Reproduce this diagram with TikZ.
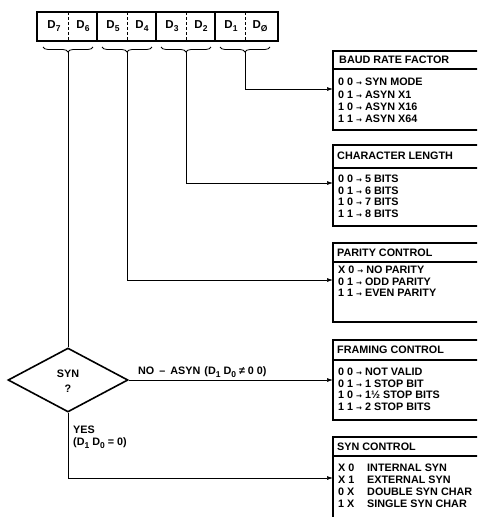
\documentclass[tikz,border=0pt]{standalone}
\usepackage{fontspec}
\setmainfont{Liberation Sans}
\newfontfamily\dv{DejaVu Sans}
\usetikzlibrary{decorations.pathreplacing,arrows.meta,shapes.geometric}
\newcommand{\sbs}[1]{\raisebox{-0.45ex}{\fontsize{8.5}{8.5}\selectfont #1}}
\newcommand{\arr}{{\dv\bfseries\fontsize{7}{7}\selectfont\hspace{3pt}→\hspace{3pt}}}
\newcommand{\rbox}[3]{%
  \draw[boxline] (495,#1) -- (333,#1) -- (333,#3) -- (495,#3);
  \draw[divline] (333,#2) -- (495,#2);}
\begin{document}
\begin{tikzpicture}[x=1pt,y=-1pt,
  font=\bfseries\fontsize{10.8}{12}\selectfont,
  boxline/.style={line width=1.6pt},
  divline/.style={line width=1.1pt},
  conn/.style={line width=0.7pt,-{Latex[length=6pt,width=4pt]}},
  txt/.style={anchor=west,inner sep=0pt},
  cell/.style={inner sep=0pt,font=\bfseries\fontsize{11.5}{12}\selectfont},
  brc/.style={decorate,decoration={brace,mirror,amplitude=5pt},line width=0.8pt}]
\useasboundingbox (0,0) rectangle (477,517);
\clip (0,0) rectangle (477,517);
% register
\node[draw,line width=1.6pt,minimum width=241pt,minimum height=29pt,inner sep=0pt] (reg) at (157.5,26.5) {};
\foreach \x in {97,156,215} \draw[line width=1.2pt] (\x,12) -- (\x,41);
\foreach \x in {68,127,186,245} \draw[line width=0.8pt,dash pattern=on 3pt off 2pt] (\x,12) -- (\x,41);
\node[cell] (d7) at (54,26) {D\sbs{7}};
\node[cell] (d6) at (83,26) {D\sbs{6}};
\node[cell] (d5) at (113,26) {D\sbs{5}};
\node[cell] (d4) at (142,26) {D\sbs{4}};
\node[cell] (d3) at (172,26) {D\sbs{3}};
\node[cell] (d2) at (201,26) {D\sbs{2}};
\node[cell] (d1) at (231,26) {D\sbs{1}};
\node[cell] (d0) at (260,26) {D\sbs{Ø}};
% braces
\draw[brc] (43,47) -- (93,47);
\draw[brc] (102,47) -- (152,47);
\draw[brc] (161,47) -- (211,47);
\draw[brc] (220,47) -- (270,47);
\coordinate (b76) at (68,52);
\coordinate (b54) at (127,52);
\coordinate (b32) at (186,52);
\coordinate (b10) at (245,52);
% boxes
\rbox{51}{69}{130}
\rbox{145}{168}{226}
\rbox{243}{262}{322}
\rbox{340}{360}{420}
\rbox{437}{456}{540}
\coordinate (baud) at (333,89);
\coordinate (char) at (333,183);
\coordinate (par) at (333,280);
\coordinate (fram) at (333,380);
\coordinate (synb) at (333,478);
% box texts
\node[txt] (t1) at (339,60) {BAUD RATE FACTOR};
\node[txt] (t1a) at (338,82) {0 0\arr SYN MODE};
\node[txt] (t1b) at (338,94.5) {0 1\arr ASYN X1};
\node[txt] (t1c) at (338,106.5) {1 0\arr ASYN X16};
\node[txt] (t1d) at (338,118.5) {1 1\arr ASYN X64};
\node[txt] (t2) at (337,156) {CHARACTER LENGTH};
\node[txt] (t2a) at (338,179) {0 0\arr 5 BITS};
\node[txt] (t2b) at (338,190.5) {0 1\arr 6 BITS};
\node[txt] (t2c) at (338,202) {1 0\arr 7 BITS};
\node[txt] (t2d) at (338,213.5) {1 1\arr 8 BITS};
\node[txt] (t3) at (337,252.5) {PARITY CONTROL};
\node[txt] (t3a) at (338,270) {X 0\arr NO PARITY};
\node[txt] (t3b) at (338,281.5) {0 1\arr ODD PARITY};
\node[txt] (t3c) at (338,293) {1 1\arr EVEN PARITY};
\node[txt] (t4) at (337,350) {FRAMING CONTROL};
\node[txt] (t4a) at (338,372) {0 0\arr NOT VALID};
\node[txt] (t4b) at (338,383.5) {0 1\arr 1 STOP BIT};
\node[txt] (t4c) at (338,395) {1 0\arr 1½ STOP BITS};
\node[txt] (t4d) at (338,406.5) {1 1\arr 2 STOP BITS};
\node[txt] (t5) at (337,446.5) {SYN CONTROL};
\node[txt] (t5a) at (338,468) {X 0};
\node[txt] (t5b) at (338,480) {X 1};
\node[txt] (t5c) at (338,492) {0 X};
\node[txt] (t5d) at (338,503.5) {1 X};
\node[txt] (t5e) at (367,468) {INTERNAL SYN};
\node[txt] (t5f) at (367,480) {EXTERNAL SYN};
\node[txt] (t5g) at (367,492) {DOUBLE SYN CHAR};
\node[txt] (t5h) at (367,503.5) {SINGLE SYN CHAR};
% diamond
\node[diamond,draw,line width=1.6pt,minimum width=120pt,minimum height=64pt,inner sep=0pt] (dia) at (68,380) {};
\node[inner sep=0pt] (syn) at (68,374) {SYN};
\node[inner sep=0pt] (q) at (68,389) {?};
% connectors
\draw[conn] (b10) |- (baud);
\draw[conn] (b32) |- (char);
\draw[conn] (b54) |- (par);
\draw[line width=0.7pt] (b76) -- (dia.north);
\draw[conn] (dia.east) -- (fram);
\draw[conn] (dia.south) |- (synb);
\node[txt] (nolab) at (138,372) {NO\hspace{5pt}\textendash\hspace{5pt}ASYN\hspace{4pt}(D\sbs{1} D\sbs{0} ≠ 0 0)};
\node[txt] (yes) at (73,430) {YES};
\node[txt] (yes2) at (73,443) {(D\sbs{1} D\sbs{0} = 0)};
\end{tikzpicture}
\end{document}
